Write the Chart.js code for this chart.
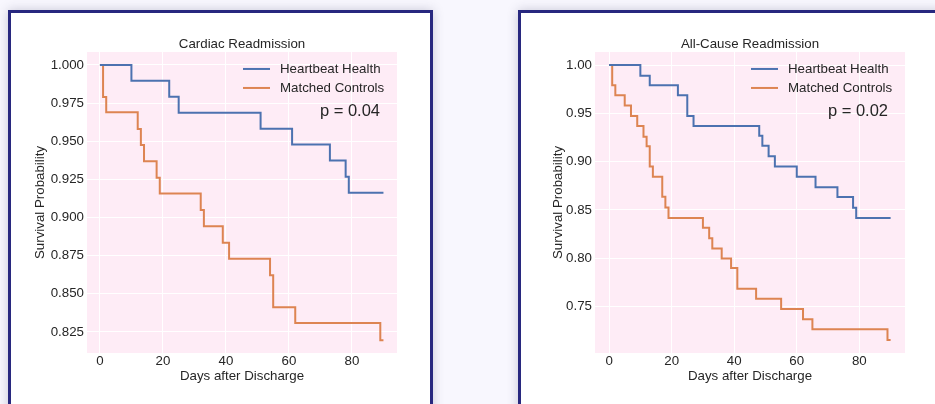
<!DOCTYPE html>
<html>
<head>
<meta charset="utf-8">
<script src="https://cdn.jsdelivr.net/npm/chart.js@4.4.1/dist/chart.umd.min.js"></script>
<style>
  html, body { margin: 0; padding: 0; background: #f8f7fe; overflow: hidden; width: 935px; height: 404px; }
  .panel {
    position: absolute; top: 10px; height: 430px; width: 419px;
    background: #fff; border: 3px solid #28287f;
    box-shadow: 0 0 10px rgba(60, 60, 90, 0.25);
  }
  #panel1 { left: 8px; }
  #panel2 { left: 518px; }
  canvas { position: absolute; left: 0; top: 0; }
</style>
</head>
<body>
<div class="panel" id="panel1"><canvas id="cardiac" width="419" height="391"></canvas></div>
<div class="panel" id="panel2"><canvas id="allcause" width="419" height="391"></canvas></div>
<script>
// x ticks shared by both plots
var dayTicks = [0, 20, 40, 60, 80];

// Cardiac readmission
var cardiacHHDays = [0, 10, 22, 25, 51, 61, 73, 78, 79, 90];
var cardiacHHSurv = [1.0, 0.9896, 0.9791, 0.9687, 0.9582, 0.9478, 0.9373, 0.9267, 0.9163, 0.9163];
var cardiacMCDays = [0, 1, 2, 12, 13, 14, 18, 19, 32, 33, 39, 41, 54, 55, 62, 89, 90];
var cardiacMCSurv = [1.0, 0.979, 0.969, 0.958, 0.9475, 0.9368, 0.926, 0.9158, 0.9049, 0.8942, 0.8834, 0.873, 0.8622, 0.8412, 0.8309, 0.8195, 0.8195];
var cardiacYTicks = ['0.825', '0.850', '0.875', '0.900', '0.925', '0.950', '0.975', '1.000'];

// All-cause readmission
var allHHDays = [0, 10, 13, 22, 25, 27, 48, 49, 51, 53, 60, 66, 73, 78, 79, 90];
var allHHSurv = [1.0, 0.9889, 0.979, 0.9686, 0.9472, 0.937, 0.9268, 0.9164, 0.9057, 0.895, 0.8843, 0.8736, 0.8633, 0.8522, 0.8418, 0.8418];
var allMCDays = [0, 1, 2, 5, 7, 9, 11, 12, 13, 14, 17, 18, 19, 30, 32, 33, 36, 39, 41, 47, 55, 62, 65, 89, 90];
var allMCSurv = [1.0, 0.979, 0.9686, 0.958, 0.9472, 0.937, 0.9257, 0.916, 0.895, 0.8843, 0.8636, 0.8526, 0.8418, 0.8315, 0.8208, 0.8101, 0.7998, 0.7899, 0.7685, 0.7582, 0.7475, 0.7368, 0.7265, 0.7154, 0.7154];
var allYTicks = ['0.75', '0.80', '0.85', '0.90', '0.95', '1.00'];

var FONT = '"Liberation Sans", Arial, Helvetica, sans-serif';
var TEXT_COL = '#262626';
var BLUE = '#4c72b0';
var ORANGE = '#dd8452';

function toPoints(days, surv) {
    var pts = [];
    for (var i = 0; i < days.length; i++) {
        pts.push({ x: days[i], y: surv[i] });
    }
    return pts;
}

// pink plot background under the grid
var plotBg = {
    id: 'plotBg',
    beforeDraw: function(chart) {
        var a = chart.chartArea;
        var ctx = chart.ctx;
        ctx.save();
        ctx.fillStyle = '#feecf6';
        ctx.fillRect(a.left, a.top, a.right - a.left, a.bottom - a.top);
        ctx.restore();
    }
};

// legend + p value inside the top right of the plot
var kmLegend = {
    id: 'kmLegend',
    afterDraw: function(chart, args, opts) {
        var a = chart.chartArea;
        var ctx = chart.ctx;
        ctx.save();
        ctx.font = '13.3px ' + FONT;
        ctx.textBaseline = 'middle';
        ctx.textAlign = 'left';
        chart.data.datasets.forEach(function(ds, i) {
            var y = a.top + 17 + i * 19;
            ctx.strokeStyle = ds.borderColor;
            ctx.lineWidth = 2;
            ctx.beginPath();
            ctx.moveTo(a.right - 154, y);
            ctx.lineTo(a.right - 127, y);
            ctx.stroke();
            ctx.fillStyle = TEXT_COL;
            ctx.fillText(ds.label, a.right - 117, y);
        });
        ctx.font = '16.5px ' + FONT;
        ctx.textAlign = 'right';
        ctx.fillText(opts.text, a.right - 17, a.top + 59.5);
        ctx.restore();
    }
};

function drawKM(id, title, pText, hh, mc, yLabels, xMin, xMax, yMin, yMax, yWidth, rightPad, yTitlePad) {
    var ctx = document.getElementById(id);
    new Chart(ctx, {
        type: 'line',
        data: {
            datasets: [{
                label: 'Heartbeat Health',
                data: hh,
                borderColor: BLUE,
                borderWidth: 2,
                stepped: 'before',
                pointRadius: 0,
                fill: false
            }, {
                label: 'Matched Controls',
                data: mc,
                borderColor: ORANGE,
                borderWidth: 2,
                stepped: 'before',
                pointRadius: 0,
                fill: false
            }]
        },
        options: {
            responsive: false,
            animation: false,
            devicePixelRatio: 1,
            layout: { padding: { left: 0, right: rightPad, top: 0, bottom: 0 } },
            plugins: {
                legend: { display: false },
                tooltip: { enabled: false },
                title: {
                    display: true,
                    fullSize: false,
                    text: title,
                    color: TEXT_COL,
                    font: { family: FONT, size: 13.3, weight: 'normal', lineHeight: 1.2 },
                    padding: { top: 23, bottom: 0 }
                },
                kmLegend: { text: pText }
            },
            scales: {
                x: {
                    type: 'linear',
                    min: xMin,
                    max: xMax,
                    afterBuildTicks: function(s) {
                        s.ticks = dayTicks.map(function(v) { return { value: v }; });
                    },
                    afterFit: function(s) { s.height = 51; },
                    ticks: {
                        color: TEXT_COL,
                        padding: 0,
                        maxRotation: 0,
                        font: { family: FONT, size: 13.3, lineHeight: 1.2 },
                        callback: function(v) { return String(v); }
                    },
                    grid: { color: '#ffffff', lineWidth: 1, drawTicks: false },
                    border: { display: false },
                    title: {
                        display: true,
                        text: 'Days after Discharge',
                        color: TEXT_COL,
                        font: { family: FONT, size: 13.3, lineHeight: 1.2 },
                        padding: { top: 0, bottom: 20 }
                    }
                },
                y: {
                    type: 'linear',
                    min: yMin,
                    max: yMax,
                    afterBuildTicks: function(s) {
                        s.ticks = yLabels.map(function(v) { return { value: parseFloat(v) }; });
                    },
                    afterFit: function(s) { s.width = yWidth; },
                    ticks: {
                        color: TEXT_COL,
                        padding: 3,
                        font: { family: FONT, size: 13.3, lineHeight: 1.2 },
                        callback: function(v, i) { return yLabels[i]; }
                    },
                    grid: { color: '#ffffff', lineWidth: 1, drawTicks: false },
                    border: { display: false },
                    title: {
                        display: true,
                        text: 'Survival Probability',
                        color: TEXT_COL,
                        font: { family: FONT, size: 13.3, lineHeight: 1.2 },
                        padding: { top: yTitlePad, bottom: 0 }
                    }
                }
            }
        },
        plugins: [plotBg, kmLegend]
    });
}

drawKM('cardiac', 'Cardiac Readmission', 'p = 0.04',
    toPoints(cardiacHHDays, cardiacHHSurv), toPoints(cardiacMCDays, cardiacMCSurv),
    cardiacYTicks, -4.1, 94.3, 0.8112, 1.0085, 76, 33, 21);

drawKM('allcause', 'All-Cause Readmission', 'p = 0.02',
    toPoints(allHHDays, allHHSurv), toPoints(allMCDays, allMCSurv),
    allYTicks, -4.5, 94.6, 0.702, 1.0135, 74, 35, 29);
</script>
</body>
</html>
